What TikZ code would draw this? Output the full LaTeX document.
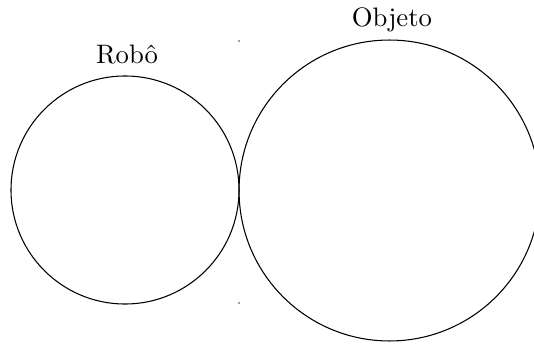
\documentclass[tikz,border=0pt]{standalone}
\usetikzlibrary{shapes}

\begin{document}
\begin{tikzpicture}[x=0.3745pt,y=-0.3745pt]
\tikzstyle{every node}=[inner sep=0pt];
\tikzstyle{body}=[draw, shape=circle];
\useasboundingbox (0,0) rectangle (534,343);

\draw (125,190) node[body, minimum size=85.4pt] (robo) {};
\draw (389.5,190.5) node[body, minimum size=112.7pt] (objeto) {};

\draw (127,55) node (lrobo) {Rob\^o};
\draw (392,20) node (lobjeto) {Objeto};

\fill[gray] (239,41) circle (0.4pt);
\fill[gray] (239,303) circle (0.4pt);

\end{tikzpicture}
\end{document}
